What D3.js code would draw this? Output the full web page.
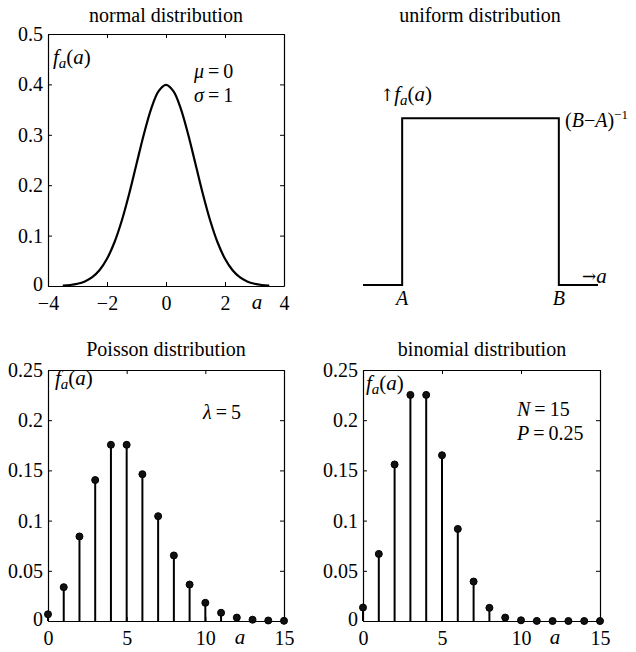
<!DOCTYPE html>
<html>
<head>
<meta charset="utf-8">
<script src="https://cdn.jsdelivr.net/npm/d3@7"></script>
<style>
  body { margin: 0; background: #fff; }
  text { font-family: "Liberation Serif", "Times New Roman", serif; fill: #000; }
</style>
</head>
<body>
<div id="chart"></div>
<script>
// normal pdf (mu = 0, sigma = 1)
const normalA = [-3.5, -3.25, -3, -2.75, -2.5, -2.25, -2, -1.75, -1.5, -1.25, -1, -0.75, -0.5, -0.25, 0,
                 0.25, 0.5, 0.75, 1, 1.25, 1.5, 1.75, 2, 2.25, 2.5, 2.75, 3, 3.25, 3.5];
const normalF = [0.0009, 0.002, 0.0044, 0.0091, 0.0175, 0.0317, 0.054, 0.0863, 0.1295, 0.1826, 0.242, 0.3011, 0.3521, 0.3867, 0.3989,
                 0.3867, 0.3521, 0.3011, 0.242, 0.1826, 0.1295, 0.0863, 0.054, 0.0317, 0.0175, 0.0091, 0.0044, 0.002, 0.0009];

// uniform: outline points (A = 1, B = 5)
const uniformA = [0, 1, 1, 5, 5, 6];
const uniformF = [0, 0, 0.25, 0.25, 0, 0];

// poisson, lambda = 5
const poissonK = d3.range(0, 16);
const poissonF = [0.0067, 0.0337, 0.0842, 0.1404, 0.1755, 0.1755, 0.1462, 0.1044, 0.0653, 0.0363,
                  0.0181, 0.0082, 0.0034, 0.0013, 0.0005, 0.0002];

// binomial, N = 15, P = 0.25
const binomK = d3.range(0, 16);
const binomF = [0.0134, 0.0668, 0.1559, 0.2252, 0.2252, 0.1651, 0.0917, 0.0393, 0.0131, 0.0034,
                0.0007, 0.0001, 0, 0, 0, 0];

const normalXTicks = [-4, -2, 0, 2, 4];
const normalYTicks = [0, 0.1, 0.2, 0.3, 0.4, 0.5];
const discreteXTicks = [0, 5, 10, 15];
const discreteYTicks = [0, 0.05, 0.1, 0.15, 0.2, 0.25];

const width = 636, height = 652;
const FS = 20;
const svg = d3.select('#chart').append('svg')
  .attr('width', width).attr('height', height);

const fmt = d => String(+d.toFixed(2)).replace('-', '\u2212');

function frame(box, x, y, xt, yt) {
  const g = svg.append('g');
  const tk = 4;
  g.append('g').attr('transform', `translate(0,${box.b})`)
    .call(d3.axisBottom(x).tickValues(xt).tickSizeInner(-tk).tickSizeOuter(0).tickPadding(10).tickFormat(fmt));
  g.append('g').attr('transform', `translate(0,${box.t})`)
    .call(d3.axisTop(x).tickValues(xt).tickSizeInner(-tk).tickSizeOuter(0).tickFormat(''));
  const left = g.append('g').attr('transform', `translate(${box.l},0)`)
    .call(d3.axisLeft(y).tickValues(yt).tickSizeInner(-tk).tickSizeOuter(0).tickPadding(5).tickFormat(fmt));
  // lift the zero label a touch so it clears the x labels below
  left.selectAll('.tick').filter(d => d === 0).select('text').attr('dy', '0.2em');
  g.append('g').attr('transform', `translate(${box.r},0)`)
    .call(d3.axisRight(y).tickValues(yt).tickSizeInner(-tk).tickSizeOuter(0).tickFormat(''));
  g.selectAll('.domain').attr('stroke', '#000').attr('stroke-width', 1.2);
  g.selectAll('.tick line').attr('stroke', '#000');
  g.selectAll('.tick text').attr('font-size', FS).attr('font-family', '"Liberation Serif", serif').attr('fill', '#000');
  return g;
}

function title(txt, cx, y) {
  svg.append('text').attr('x', cx).attr('y', y).attr('text-anchor', 'middle')
    .attr('font-size', FS).text(txt);
}

function fa(x, y, arrow) {
  const t = svg.append('text').attr('x', x).attr('y', y).attr('font-size', 21);
  if (arrow) t.append('tspan').attr('font-family', '"DejaVu Serif", serif').attr('font-size', 17).text('\u2191');
  t.append('tspan').attr('font-style', 'italic').text('f');
  t.append('tspan').attr('font-style', 'italic').attr('font-size', 15).attr('dy', 4).text('a');
  t.append('tspan').attr('dy', -4).text('(');
  t.append('tspan').attr('font-style', 'italic').text('a');
  t.append('tspan').text(')');
}

function eq(x, y, name, val) {
  const t = svg.append('text').attr('x', x).attr('y', y).attr('font-size', FS);
  t.append('tspan').attr('font-style', 'italic').text(name);
  t.append('tspan').text('\u2009=\u2009' + val);
}

function italic(x, y, s, size = FS) {
  svg.append('text').attr('x', x).attr('y', y).attr('font-size', size)
    .attr('font-style', 'italic').attr('text-anchor', 'middle').text(s);
}

// ---- normal ----
const boxN = {l: 48, r: 284, t: 34, b: 286};
const xN = d3.scaleLinear().domain([-4, 4]).range([boxN.l, boxN.r]);
const yN = d3.scaleLinear().domain([0, 0.5]).range([boxN.b, boxN.t]);
frame(boxN, xN, yN, normalXTicks, normalYTicks);
svg.append('path')
  .datum(normalA.map((a, i) => [a, normalF[i]]))
  .attr('fill', 'none').attr('stroke', '#000').attr('stroke-width', 2.2)
  .attr('d', d3.line().x(d => xN(d[0])).y(d => yN(d[1])).curve(d3.curveCatmullRom));
title('normal distribution', 166, 22);
fa(53, 64);
eq(194, 78, '\u03bc', '0');
eq(194, 102, '\u03c3', '1');
italic(257, 309, 'a', 21);

// ---- uniform ----
const xU = d3.scaleLinear().domain([0, 6]).range([363, 598]);
const yU = d3.scaleLinear().domain([0, 0.3]).range([285, 85]);
svg.append('path')
  .datum(uniformA.map((a, i) => [a, uniformF[i]]))
  .attr('fill', 'none').attr('stroke', '#000').attr('stroke-width', 2)
  .attr('d', d3.line().x(d => xU(d[0])).y(d => yU(d[1])));
title('uniform distribution', 480, 22);
fa(380, 101, true);
{
  const t = svg.append('text').attr('x', 565).attr('y', 127).attr('font-size', FS);
  t.append('tspan').text('(');
  t.append('tspan').attr('font-style', 'italic').text('B');
  t.append('tspan').text('\u2212');
  t.append('tspan').attr('font-style', 'italic').text('A');
  t.append('tspan').text(')');
  t.append('tspan').attr('font-size', 13).attr('dy', -8).text('\u22121');
}
{
  const t = svg.append('text').attr('x', 582).attr('y', 283).attr('font-size', 21);
  t.append('tspan').attr('font-family', '"DejaVu Serif", serif').attr('font-size', 17).attr('dy', -1).text('\u2192');
  t.append('tspan').attr('font-style', 'italic').attr('dy', 1).text('a');
}
italic(xU(1), 305, 'A');
italic(xU(5), 305, 'B');

// ---- stem plots ----
function stems(box, ks, fs) {
  const x = d3.scaleLinear().domain([0, 15]).range([box.l, box.r]);
  const y = d3.scaleLinear().domain([0, 0.25]).range([box.b, box.t]);
  frame(box, x, y, discreteXTicks, discreteYTicks);
  const g = svg.append('g');
  const data = ks.map((k, i) => ({k, f: fs[i]}));
  g.selectAll('line.stem').data(data).join('line')
    .attr('x1', d => x(d.k)).attr('x2', d => x(d.k))
    .attr('y1', y(0)).attr('y2', d => y(d.f))
    .attr('stroke', '#000').attr('stroke-width', 2);
  g.selectAll('circle').data(data).join('circle')
    .attr('cx', d => x(d.k)).attr('cy', d => y(d.f)).attr('r', 3.5)
    .attr('fill', '#111').attr('stroke', '#000').attr('stroke-width', 1);
  return x;
}

const boxP = {l: 48, r: 284, t: 370, b: 621};
stems(boxP, poissonK, poissonF);
title('Poisson distribution', 166, 356);
fa(55, 385);
eq(203, 419, '\u03bb', '5');
italic(240, 644, 'a', 21);

const boxB = {l: 363, r: 600, t: 370, b: 621};
stems(boxB, binomK, binomF);
title('binomial distribution', 482, 356);
fa(366, 390);
eq(517, 416, 'N', '15');
eq(517, 440, 'P', '0.25');
italic(555, 644, 'a', 21);
</script>
</body>
</html>
